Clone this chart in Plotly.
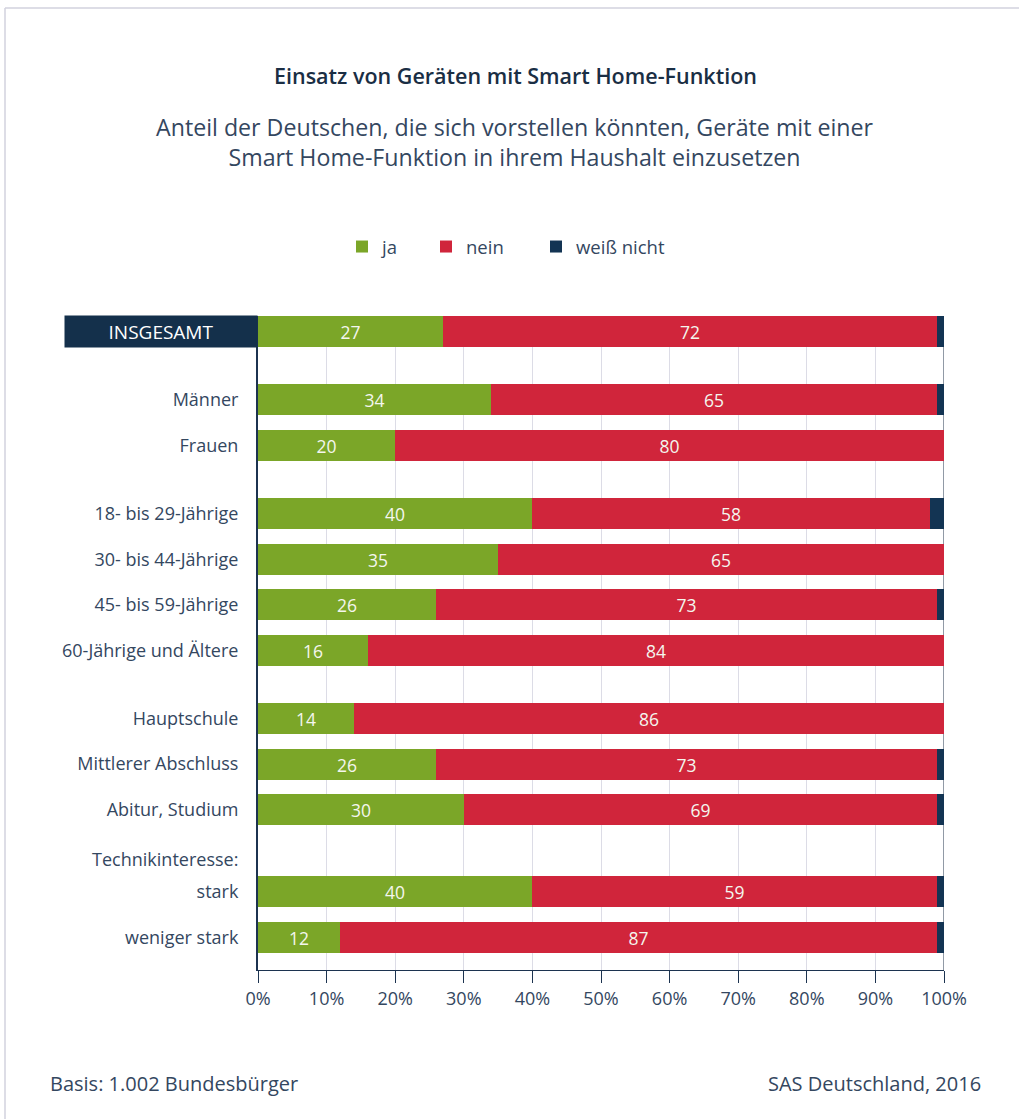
import plotly.graph_objects as go

# ---- data ----
categories = ["INSGESAMT", "Männer", "Frauen",
              "18- bis 29-Jährige", "30- bis 44-Jährige", "45- bis 59-Jährige", "60-Jährige und Ältere",
              "Hauptschule", "Mittlerer Abschluss", "Abitur, Studium",
              "stark", "weniger stark"]
ja = [27, 34, 20, 40, 35, 26, 16, 14, 26, 30, 40, 12]
nein = [72, 65, 80, 58, 65, 73, 84, 86, 73, 69, 59, 87]
weiss_nicht = [1, 1, 0, 2, 0, 1, 0, 0, 1, 1, 1, 1]
series_names = ["ja", "nein", "weiß nicht"]
x_ticks = [0, 10, 20, 30, 40, 50, 60, 70, 80, 90, 100]
x_tick_labels = ["0%", "10%", "20%", "30%", "40%", "50%", "60%", "70%", "80%", "90%", "100%"]

# group structure (sizes) and extra gap before each group, used for row layout
group_sizes = [1, 2, 4, 3, 2]
group_gaps = [0, 0.5, 0.5, 0.5, 0.8]

# ---- layout computation ----
pos = []
p = -1.0
for size, gap in zip(group_sizes, group_gaps):
    p += gap
    for _ in range(size):
        p += 1
        pos.append(p)
header_pos = pos[-2] - 0.7  # "Technikinteresse:" label row

colors = ["#7ba628", "#d0253b", "#133453"]
TXT = "#34475f"
FONT = "'Open Sans', Lato, sans-serif"

L, R, T, B = 258, 75, 316, 149
W, H = 1019, 1119
PW, PH = W - L - R, H - T - B


def px(xp):
    return (xp - L) / PW


def py(yp):
    return (H - B - yp) / PH


legend_ids = ["legend", "legend2", "legend3"]
legend_px = [342, 426, 536]

fig = go.Figure()
for name, vals, col, lg in zip(series_names, [ja, nein, weiss_nicht], colors, legend_ids):
    show_text = name != "weiß nicht"
    fig.add_trace(go.Bar(
        name=name, x=vals, y=pos, orientation="h", width=0.68,
        marker=dict(color=col, line=dict(width=0)),
        text=[str(v) if (show_text and v > 0) else "" for v in vals],
        textposition="inside", insidetextanchor="middle",
        textfont=dict(color="#f4f6ee", size=17.5, family=FONT),
        hoverinfo="x+name", legend=lg,
    ))

tickvals = pos[1:] + [header_pos]
ticktext = categories[1:] + ["Technikinteresse:"]

legend_common = dict(orientation="h", xanchor="left", y=py(247), yanchor="middle",
                     font=dict(size=18.5, color=TXT), itemwidth=30, bgcolor="rgba(0,0,0,0)")

fig.update_layout(
    width=W, height=H,
    margin=dict(l=L, r=R, t=T, b=B, autoexpand=False),
    barmode="stack",
    plot_bgcolor="white", paper_bgcolor="white",
    font=dict(family=FONT, color=TXT, size=18),
    showlegend=True,
    legend=dict(x=px(legend_px[0]), **legend_common),
    legend2=dict(x=px(legend_px[1]), **legend_common),
    legend3=dict(x=px(legend_px[2]), **legend_common),
    xaxis=dict(range=[0, 100], tickvals=x_ticks, ticktext=x_tick_labels,
               showgrid=True, gridcolor="#dcdce6", gridwidth=1,
               showline=True, linecolor="#1c3350", linewidth=1,
               ticks="outside", ticklen=12, tickcolor="#1c3350",
               tickfont=dict(size=18, color=TXT), zeroline=False, fixedrange=True),
    yaxis=dict(range=[pos[-1] + 0.72, -0.34], tickvals=tickvals, ticktext=ticktext,
               showgrid=False, zeroline=False, showline=True, linecolor="#1c3350", linewidth=2,
               ticks="", ticklabelstandoff=14, tickfont=dict(size=18, color=TXT), fixedrange=True),
    bargap=0,
)

shapes = [
    dict(type="line", xref="x", yref="paper", x0=100, x1=100, y0=0, y1=1,
         line=dict(color="#6d7888", width=1.5), layer="below"),
    # outer frame (top and left)
    dict(type="line", xref="paper", yref="paper", x0=px(5), x1=px(1025), y0=py(8), y1=py(8),
         line=dict(color="#d2d2de", width=1.5)),
    dict(type="line", xref="paper", yref="paper", x0=px(5), x1=px(5), y0=py(8), y1=py(1125),
         line=dict(color="#d2d2de", width=1.5)),
]
fig.update_layout(shapes=shapes)

annotations = [
    dict(text="Einsatz von Geräten mit Smart Home-Funktion", xref="paper", yref="paper",
         x=px(515), y=py(75), xanchor="center", yanchor="middle", showarrow=False,
         font=dict(size=21.5, color="#1a2e44", family=FONT, weight=600)),
    dict(text="Anteil der Deutschen, die sich vorstellen könnten, Geräte mit einer<br>Smart Home-Funktion in ihrem Haushalt einzusetzen",
         xref="paper", yref="paper", x=px(515), y=py(142), xanchor="center", yanchor="middle",
         showarrow=False, align="center", font=dict(size=23.2, color=TXT)),
    dict(text="INSGESAMT", xref="x", yref="y", x=0, y=pos[0], xanchor="right", yanchor="middle",
         showarrow=False, width=192, height=31, borderpad=0, bgcolor="#14304b",
         align="center", valign="middle", font=dict(size=19, color="white")),
    dict(text="Basis: 1.002 Bundesbürger", xref="paper", yref="paper", x=px(48), y=py(1083),
         xanchor="left", yanchor="middle", showarrow=False, font=dict(size=20, color=TXT)),
    dict(text="SAS Deutschland, 2016", xref="paper", yref="paper", x=px(983), y=py(1083),
         xanchor="right", yanchor="middle", showarrow=False, font=dict(size=20, color=TXT)),
]
fig.update_layout(annotations=annotations)

fig.write_html("out.html")
